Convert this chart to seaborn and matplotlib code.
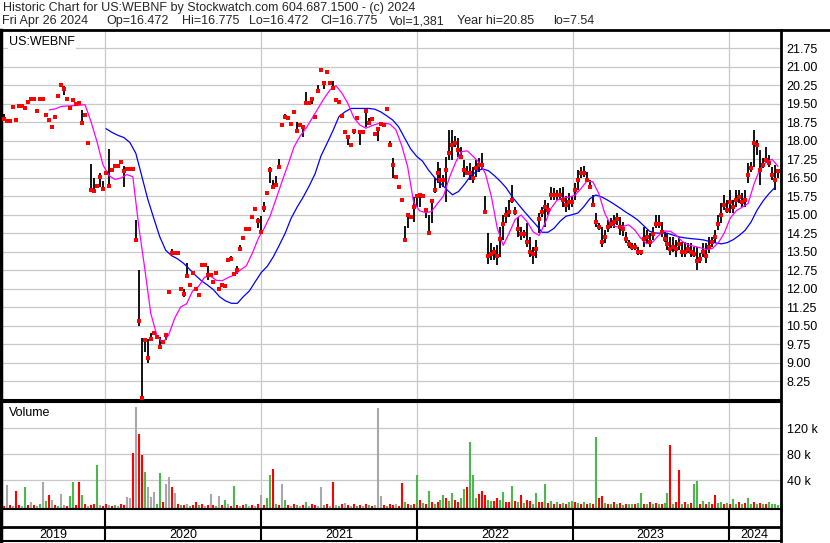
import numpy as np
import pandas as pd
import matplotlib
matplotlib.use("Agg")
import matplotlib.pyplot as plt
import matplotlib.dates as mdates
from matplotlib.lines import Line2D
import seaborn as sns

# ---------------- data (weekly samples) ----------------
high = [
    19.08, 18.80, 18.80, 19.37, 18.83, 19.41, 19.41, 19.33, 19.55, 19.70,
    19.70, 19.28, 19.70, 19.70, 19.05, 18.83, 18.56, 18.97, 19.82, 20.26,
    20.22, 19.70, 19.31, 19.64, 19.48, 19.53, 19.24, 19.05, 17.90, 17.05,
    16.48, 16.17, 16.68, 16.35, 16.67, 17.66, 16.80, 17.05, 16.97, 17.13,
    16.97, 16.86, 16.86, 16.86, 14.78, 12.75, 10.00, 9.96, 9.95, 10.21,
    10.21, 10.05, 10.05, 9.85, 10.12, 11.87, 13.60, 13.45, 13.45, 11.99,
    11.99, 13.03, 12.14, 12.62, 11.99, 11.75, 12.94, 12.94, 12.90, 12.54,
    12.28, 12.62, 11.99, 12.13, 12.10, 13.16, 13.33, 12.59, 12.90, 13.76,
    14.06, 14.42, 14.42, 14.91, 15.22, 14.85, 14.94, 15.51, 15.88, 16.94,
    16.40, 16.56, 17.25, 18.63, 19.08, 18.93, 18.67, 19.14, 18.77, 18.63,
    18.56, 19.97, 19.53, 19.70, 18.97, 20.26, 20.85, 20.36, 20.79, 20.34,
    20.42, 19.64, 19.56, 18.99, 18.36, 18.13, 17.83, 18.39, 18.91, 18.36,
    18.36, 19.20, 18.90, 18.87, 18.26, 18.47, 18.67, 18.63, 19.27, 17.98,
    17.29, 16.53, 16.13, 15.59, 14.53, 15.06, 14.91, 15.71, 15.73, 15.79,
    15.73, 15.18, 14.98, 15.59, 16.48, 17.14, 16.87, 16.60, 17.35, 18.43,
    18.43, 18.17, 18.10, 17.75, 17.21, 16.97, 17.09, 16.94, 17.21, 17.29,
    17.49, 15.75, 14.25, 13.85, 13.70, 13.75, 14.50, 14.98, 15.32, 15.59,
    16.20, 15.32, 14.91, 14.50, 14.37, 14.64, 14.10, 13.70, 13.97, 15.05,
    15.32, 15.59, 15.47, 16.13, 16.08, 15.99, 16.08, 16.13, 15.73, 15.86,
    15.73, 16.26, 16.80, 16.94, 16.98, 16.74, 16.40, 15.79, 15.06, 14.64,
    14.50, 14.37, 14.78, 14.86, 14.98, 15.06, 14.91, 14.70, 14.30, 13.97,
    13.85, 13.85, 13.70, 13.56, 14.50, 14.37, 14.25, 14.50, 14.98, 14.98,
    14.71, 14.30, 14.25, 14.10, 14.10, 13.97, 14.10, 13.90, 13.90, 13.83,
    13.83, 13.70, 13.70, 13.43, 13.83, 13.83, 14.10, 14.10, 14.37, 14.98,
    15.45, 15.79, 15.59, 15.99, 15.59, 15.99, 15.99, 15.86, 15.99, 17.09,
    17.14, 18.43, 18.02, 17.61, 17.29, 17.75, 17.41, 16.94, 17.01, 16.775,
]
low = [
    18.83, 18.80, 18.80, 19.37, 18.83, 19.41, 19.41, 19.33, 19.55, 19.70,
    19.70, 19.16, 19.70, 19.70, 19.05, 18.83, 18.56, 18.97, 19.82, 20.26,
    19.86, 19.70, 19.31, 19.64, 19.48, 19.53, 18.72, 19.05, 17.90, 15.92,
    15.87, 16.17, 16.11, 16.05, 16.67, 16.16, 16.80, 16.97, 16.97, 17.13,
    16.13, 16.86, 16.86, 16.86, 13.97, 10.46, 7.54, 9.44, 9.00, 9.87,
    10.21, 10.05, 9.64, 9.85, 9.91, 11.87, 13.45, 13.45, 13.45, 11.99,
    11.64, 12.47, 12.14, 12.62, 11.99, 11.75, 12.94, 12.94, 12.35, 12.54,
    12.28, 12.62, 11.99, 12.13, 12.10, 13.16, 13.18, 12.59, 12.59, 13.60,
    14.06, 14.42, 14.42, 14.91, 15.22, 14.47, 14.30, 15.12, 15.88, 16.29,
    16.13, 16.20, 16.94, 18.63, 18.94, 18.93, 18.67, 19.14, 18.36, 18.63,
    18.15, 19.51, 19.53, 19.47, 18.97, 20.02, 20.85, 20.10, 20.79, 20.34,
    20.13, 19.64, 19.56, 18.99, 18.36, 17.83, 17.83, 18.26, 18.91, 17.80,
    18.36, 18.56, 18.72, 18.87, 18.26, 17.99, 18.67, 18.63, 19.27, 17.80,
    16.47, 16.53, 16.13, 15.59, 13.97, 14.47, 14.91, 14.71, 15.32, 15.32,
    15.73, 14.85, 14.24, 14.67, 15.87, 16.28, 16.07, 16.10, 15.52, 17.21,
    17.21, 17.73, 17.34, 17.34, 16.53, 16.60, 16.40, 16.26, 16.53, 16.74,
    16.80, 15.10, 12.98, 13.16, 13.16, 12.95, 13.29, 13.97, 14.64, 14.91,
    15.45, 14.98, 14.10, 13.97, 14.03, 13.70, 13.29, 12.98, 13.24, 14.24,
    14.91, 14.50, 14.98, 15.59, 15.59, 15.59, 15.59, 15.32, 15.12, 15.18,
    15.32, 15.59, 15.99, 16.47, 16.53, 16.33, 16.08, 15.39, 14.50, 14.37,
    13.70, 13.84, 14.29, 14.44, 14.44, 14.58, 14.17, 14.13, 13.84, 13.63,
    13.56, 13.56, 13.36, 13.36, 13.70, 13.84, 13.70, 13.97, 14.44, 14.44,
    14.10, 13.90, 13.56, 13.36, 13.49, 13.29, 13.56, 13.29, 13.29, 13.43,
    13.29, 13.29, 12.75, 13.02, 13.29, 13.02, 13.43, 13.70, 13.83, 14.37,
    14.64, 15.18, 15.05, 15.05, 15.05, 15.32, 15.45, 15.32, 15.32, 16.28,
    16.74, 16.94, 17.41, 16.20, 16.88, 17.09, 16.94, 16.40, 15.99, 16.472,
]
close = [
    18.87, 18.80, 18.80, 19.37, 18.83, 19.41, 19.41, 19.33, 19.55, 19.70,
    19.70, 19.20, 19.70, 19.70, 19.05, 18.83, 18.56, 18.97, 19.82, 20.26,
    20.10, 19.70, 19.31, 19.64, 19.48, 19.53, 18.72, 19.05, 17.90, 15.99,
    15.95, 16.17, 16.53, 16.05, 16.67, 16.16, 16.80, 16.97, 16.97, 17.13,
    16.76, 16.86, 16.86, 16.86, 13.97, 10.69, 7.57, 9.91, 9.19, 9.96,
    10.21, 10.05, 9.64, 9.85, 10.12, 11.87, 13.45, 13.45, 13.45, 11.99,
    11.78, 12.52, 12.14, 12.62, 11.99, 11.75, 12.94, 12.94, 12.54, 12.54,
    12.28, 12.62, 11.99, 12.13, 12.10, 13.16, 13.18, 12.59, 12.75, 13.60,
    14.06, 14.42, 14.42, 14.91, 15.22, 14.75, 14.30, 15.28, 15.88, 16.80,
    16.13, 16.20, 16.94, 18.63, 18.94, 18.93, 18.67, 19.14, 18.40, 18.63,
    18.56, 19.53, 19.53, 19.70, 18.97, 20.02, 20.85, 20.34, 20.79, 20.34,
    20.13, 19.64, 19.56, 18.99, 18.36, 18.13, 17.83, 18.39, 18.91, 18.36,
    18.36, 19.20, 18.72, 18.87, 18.26, 18.47, 18.67, 18.63, 19.27, 17.80,
    17.01, 16.53, 16.13, 15.59, 13.97, 14.98, 14.91, 15.32, 15.73, 15.79,
    15.73, 15.18, 14.26, 15.56, 16.00, 16.67, 16.40, 16.40, 16.80, 17.50,
    17.80, 17.90, 17.60, 17.34, 16.80, 16.70, 16.70, 16.50, 16.90, 17.00,
    17.00, 15.10, 13.30, 13.40, 13.50, 13.30, 14.00, 14.60, 15.00, 15.10,
    15.60, 15.10, 14.40, 14.20, 14.20, 13.90, 13.50, 13.40, 13.60, 14.80,
    15.10, 15.30, 15.20, 15.80, 15.80, 15.80, 15.80, 15.60, 15.40, 15.50,
    15.50, 16.00, 16.40, 16.70, 16.70, 16.40, 16.10, 15.40, 14.70, 14.50,
    13.90, 14.10, 14.50, 14.60, 14.70, 14.80, 14.50, 14.40, 14.00, 13.80,
    13.70, 13.70, 13.50, 13.50, 14.00, 14.10, 13.90, 14.20, 14.60, 14.60,
    14.30, 14.00, 13.80, 13.60, 13.70, 13.60, 13.80, 13.50, 13.50, 13.60,
    13.50, 13.40, 13.10, 13.20, 13.50, 13.30, 13.70, 13.90, 14.10, 14.60,
    15.00, 15.40, 15.20, 15.50, 15.30, 15.60, 15.70, 15.50, 15.60, 16.60,
    16.90, 17.90, 17.80, 16.80, 17.00, 17.20, 17.10, 16.60, 16.40, 16.775,
]
# volume in thousands of shares, weekly
volume_k = [
    1, 33, 2, 1, 24, 2, 1, 29, 2, 7,
    2, 1, 3, 38, 8, 17, 9, 2, 1, 19,
    2, 1, 16, 38, 2, 38, 17, 3, 1, 2,
    3, 63, 2, 1, 4, 2, 1, 2, 1, 3,
    2, 14, 12, 82, 153, 112, 79, 53, 29, 14,
    22, 3, 51, 6, 34, 45, 30, 20, 3, 2,
    2, 3, 1, 2, 6, 2, 3, 1, 2, 19,
    2, 1, 16, 2, 9, 3, 1, 31, 2, 1,
    2, 3, 1, 2, 1, 3, 17, 2, 13, 48,
    58, 3, 2, 34, 10, 2, 1, 3, 2, 1,
    2, 6, 1, 3, 2, 1, 29, 2, 3, 1,
    38, 2, 1, 3, 5, 2, 1, 3, 1, 2,
    1, 3, 2, 1, 2, 152, 16, 2, 1, 3,
    2, 3, 1, 36, 6, 3, 2, 4, 48, 9,
    5, 3, 24, 6, 4, 7, 9, 18, 12, 8,
    20, 10, 6, 13, 27, 29, 99, 48, 12, 19,
    24, 17, 10, 8, 8, 12, 9, 22, 7, 6,
    31, 8, 6, 17, 5, 9, 8, 4, 21, 6,
    7, 34, 5, 8, 4, 6, 3, 5, 4, 6,
    8, 6, 5, 4, 7, 3, 5, 4, 107, 13,
    16, 5, 3, 4, 6, 3, 5, 2, 4, 3,
    4, 3, 5, 21, 3, 4, 6, 3, 5, 4,
    3, 5, 21, 94, 4, 6, 56, 3, 6, 4,
    5, 35, 39, 3, 8, 4, 6, 3, 17, 5,
    6, 4, 5, 3, 11, 4, 6, 3, 5, 12,
    4, 6, 3, 5, 4, 3, 6, 4, 4, 1.381,
]
# volume bar type: r = down, g = up, k = unchanged
volume_kind = (
    "rkrkrrkgrk" "rkgkgrkrgk" "krggrrgrkr" "rgkrrkrgkr" "rkkrkrrgkk"
    "kggrkkrkrg" "rkgrrgrkrk" "rgkrgkrgrk" "rgkrkrkrgg" "rgrkgrkrgk"
    "rgkrrkkgrk" "rkgrkrkrgr" "krgrkkkrgr" "rkrrgrgrgr" "grgrgrggrg"
    "grrggrgggr" "rrggrrggrr" "grgrgrrggr" "rgrgrgrgrg" "grgrgrgrgr"
    "rgrgrgrgrg" "grggrgrgrg" "rggrgrrgrg" "rggrgrgrrg" "grgrggrgrg"
    "grgrgrgggg"
)
# moving averages, every second week
ma_fast_start = 15
ma_fast = [
    19.24, 19.28, 19.38, 19.40, 19.41, 19.43, 19.45, 18.76, 17.95, 17.01,
    16.58, 16.42, 16.48, 16.62, 16.53, 14.50, 12.80, 10.99, 10.12, 9.78,
    10.12, 10.79, 11.25, 11.38, 11.90, 12.08, 12.46, 12.50, 12.33, 12.32,
    12.45, 12.55, 12.75, 12.92, 13.43, 14.03, 14.45, 14.95, 15.65, 16.36,
    17.04, 17.75, 18.18, 18.50, 18.90, 19.30, 19.70, 20.05, 20.22, 19.92,
    19.50, 18.92, 18.63, 18.50, 18.60, 18.68, 18.70, 18.67, 18.45, 17.80,
    16.94, 15.50, 15.15, 15.08, 15.12, 15.45, 15.75, 16.50, 17.10, 17.55,
    17.58, 17.35, 17.10, 16.67, 15.75, 14.45, 13.75, 14.25, 14.80, 14.98,
    14.71, 14.30, 14.15, 14.65, 15.25, 15.58, 15.67, 15.70, 15.78, 16.05,
    16.35, 16.33, 15.85, 15.05, 14.58, 14.50, 14.52, 14.58, 14.38, 14.05,
    13.82, 13.88, 14.15, 14.33, 14.32, 14.15, 13.90, 13.77, 13.71, 13.65,
    13.58, 13.62, 13.85, 14.25, 14.85, 15.15, 15.30, 15.45, 16.25, 16.85,
    17.12, 17.24, 16.95,
]
ma_slow_start = 34
ma_slow = [
    18.48, 18.33, 18.21, 18.12, 17.92, 17.48, 16.55, 15.62, 14.85, 14.10,
    13.55, 13.33, 13.20, 13.02, 12.78, 12.53, 12.31, 12.14, 11.95, 11.67,
    11.50, 11.40, 11.40, 11.67, 11.90, 12.28, 12.65, 12.90, 13.28, 13.75,
    14.24, 14.85, 15.30, 15.70, 16.15, 16.65, 17.38, 17.88, 18.40, 18.97,
    19.16, 19.30, 19.30, 19.30, 19.30, 19.27, 19.16, 19.00, 18.83, 18.55,
    18.10, 17.66, 17.36, 17.16, 16.80, 16.50, 16.27, 16.02, 15.80, 15.93,
    16.22, 16.55, 16.74, 16.85, 16.78, 16.58, 16.35, 16.08, 15.72, 15.42,
    15.13, 14.85, 14.58, 14.28, 14.28, 14.44, 14.72, 14.93, 14.99, 15.06,
    15.32, 15.64, 15.79, 15.71, 15.58, 15.43, 15.27, 15.10, 14.95, 14.78,
    14.55, 14.32, 14.25, 14.24, 14.24, 14.16, 14.09, 14.05, 14.02, 14.00,
    13.97, 13.91, 13.85, 13.81, 13.86, 13.98, 14.15, 14.36, 14.70, 15.18,
    15.55, 15.85, 16.10,
]
price_ticks = [8.25, 9.00, 9.75, 10.50, 11.25, 12.00, 12.75, 13.50, 14.25, 15.00,
               15.75, 16.50, 17.25, 18.00, 18.75, 19.50, 20.25, 21.00, 21.75]
volume_ticks = [40000, 80000, 120000]
volume_tick_labels = ["40 k", "80 k", "120 k"]
years = ["2019", "2020", "2021", "2022", "2023", "2024"]
title_line1 = "Historic Chart for US:WEBNF by Stockwatch.com 604.687.1500 - (c) 2024"
title_line2 = ["Fri Apr 26 2024", "Op=16.472", "Hi=16.775", "Lo=16.472",
               "Cl=16.775", "Vol=1,381", "Year hi=20.85", "lo=7.54"]
title_line2_px = [2, 106, 182, 249, 320, 389, 457, 553]

# ---------------- frame ----------------
n = len(close)
dates = pd.date_range(end="2024-04-26", periods=n, freq="7D")
df = pd.DataFrame({"date": dates, "high": high[:n], "low": low[:n], "close": close,
                   "vol": np.array(volume_k[:n]) * 1000, "kind": list(volume_kind[:n])})
fast = pd.DataFrame({"date": dates[ma_fast_start::2][:len(ma_fast)],
                     "ma": ma_fast[:len(dates[ma_fast_start::2])]})
slow = pd.DataFrame({"date": dates[ma_slow_start::2][:len(ma_slow)],
                     "ma": ma_slow[:len(dates[ma_slow_start::2])]})

sns.set_theme(style="white")
plt.rcParams["font.family"] = ["Liberation Sans", "DejaVu Sans"]

W, H = 830, 543
fig = plt.figure(figsize=(W / 100, H / 100), dpi=100)
fig.patch.set_facecolor("white")


def rect(x0, y0, x1, y1):
    return [x0 / W, 1 - y1 / H, (x1 - x0) / W, (y1 - y0) / H]


ax = fig.add_axes(rect(1, 30, 781, 400))
axv = fig.add_axes(rect(1, 402, 781, 509))
axd = fig.add_axes(rect(1, 509, 781, 541))

xmin = mdates.date2num(pd.Timestamp("2019-05-02"))
xmax = mdates.date2num(pd.Timestamp("2024-05-03"))
year_starts = [pd.Timestamp(f"{y}-01-01") for y in years[1:]]
grid_c = "#c8c8c8"

# ---------------- price panel ----------------
ax.set_facecolor("white")
ax.set_xlim(xmin, xmax)
ax.set_ylim(7.48, 22.48)
ax.set_yticks(price_ticks)
ax.set_yticklabels([f"{t:.2f}" for t in price_ticks])
ax.set_xticks([mdates.date2num(d) for d in year_starts])
ax.set_xticklabels([])
ax.grid(True, color=grid_c, lw=0.9)
ax.set_axisbelow(True)
ax.yaxis.tick_right()
ax.tick_params(axis="y", length=0, pad=4, labelsize=9, colors="black")
ax.tick_params(axis="x", length=0)

rng = df[df["high"] > df["low"]]
ax.vlines(rng["date"], rng["low"], rng["high"], color="black", lw=1.3, zorder=3)
sns.lineplot(data=slow, x="date", y="ma", color="#0000ff", lw=0.9, ax=ax,
             estimator=None, zorder=4)
sns.lineplot(data=fast, x="date", y="ma", color="#ff00ff", lw=0.9, ax=ax,
             estimator=None, zorder=4)
sns.scatterplot(data=df, x="date", y="close", marker="s", s=5, color="#ff0000",
                linewidth=0, ax=ax, zorder=5)
ax.set_xlabel("")
ax.set_ylabel("")
ax.set_xlim(xmin, xmax)
ax.text(8 / 780, 1 - 12 / 370, "US:WEBNF", transform=ax.transAxes, fontsize=9,
        va="center", ha="left", color="black",
        bbox=dict(facecolor="white", edgecolor="none", pad=0.5))

# ---------------- volume panel ----------------
vlo = -4200
axv.set_facecolor("white")
axv.set_xlim(xmin, xmax)
axv.set_ylim(vlo, 160500)
axv.set_yticks(volume_ticks)
axv.set_yticklabels(volume_tick_labels)
axv.set_xticks([mdates.date2num(d) for d in year_starts])
axv.set_xticklabels([])
axv.grid(True, color=grid_c, lw=0.9)
axv.set_axisbelow(True)
axv.yaxis.tick_right()
axv.tick_params(axis="y", length=0, pad=4, labelsize=9, colors="black")
axv.tick_params(axis="x", length=0)
kind_colors = {"r": "#ff0000", "g": "#4cb84c", "k": "#a8a8a8"}
for k, c in kind_colors.items():
    sub = df[df["kind"] == k]
    axv.vlines(sub["date"], vlo, sub["vol"], color=c, lw=1.5, zorder=3)
axv.text(8 / 780, 1 - 11 / 107, "Volume", transform=axv.transAxes, fontsize=9,
         va="center", ha="left", color="black")

# ---------------- date band ----------------
axd.set_xlim(xmin, xmax)
axd.set_ylim(0, 1)
axd.set_xticks([])
axd.set_yticks([])
axd.set_facecolor("white")
axd.axhline(14 / 32, color="black", lw=2)
for d in year_starts:
    axd.axvline(mdates.date2num(d), color="black", lw=1.5)
bounds = [xmin] + [mdates.date2num(d) for d in year_starts] + [xmax]
for i, y in enumerate(years):
    axd.text((bounds[i] + bounds[i + 1]) / 2, 6.5 / 32, y, ha="center",
             va="center", fontsize=9, color="black")

for a in (ax, axv, axd):
    for s in a.spines.values():
        s.set_color("black")
        s.set_linewidth(1.5)
    a.spines["left"].set_linewidth(2.5)
    a.spines["right"].set_linewidth(2)
ax.spines["top"].set_linewidth(2)

# header
fig.add_artist(Line2D([781 / W, 1], [1 - 30 / H] * 2, color="black", lw=2))
fig.text(3 / W, 1 - 8 / H, title_line1, fontsize=9, va="center", ha="left")
for txt, px in zip(title_line2, title_line2_px):
    fig.text(px / W, 1 - 21 / H, txt, fontsize=9, va="center", ha="left")

fig.savefig("out.png", dpi=100, facecolor="white")
